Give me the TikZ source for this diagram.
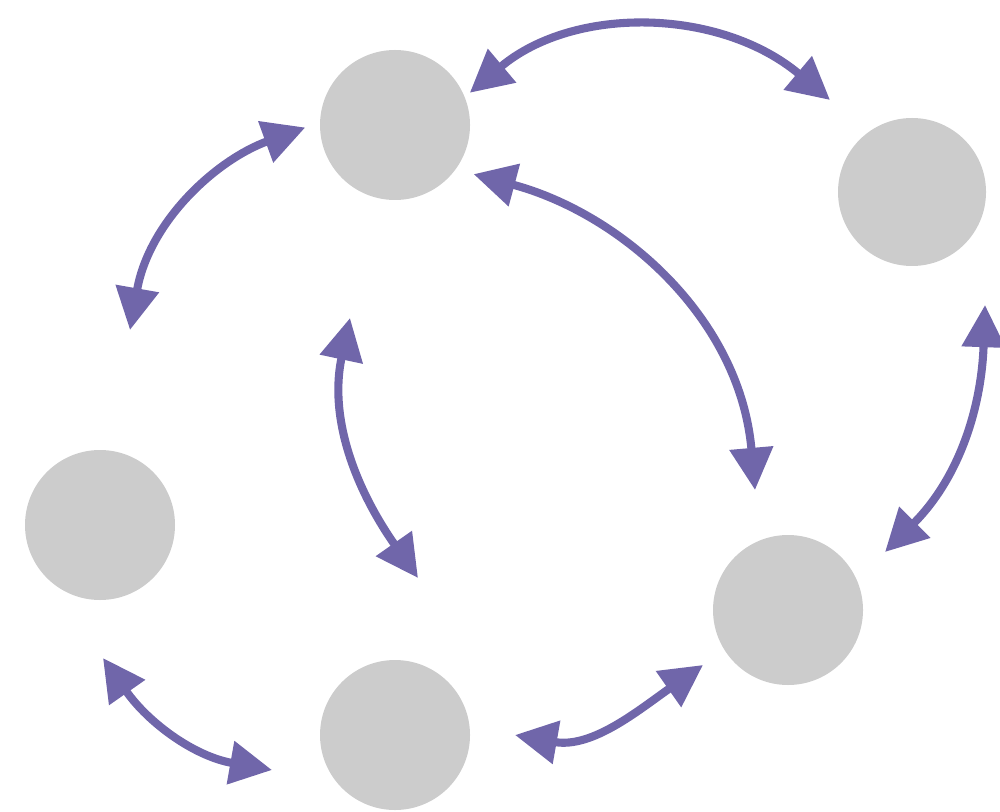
\documentclass[tikz,border=0pt]{standalone}
\usepackage{xcolor}
\usetikzlibrary{arrows.meta}
\definecolor{mypurple}{RGB}{112,102,170}
\definecolor{mygray}{RGB}{204,204,204}

\begin{document}
\begin{tikzpicture}[scale=1]
 \useasboundingbox (0,0) rectangle (10,8.11);

 %nodes:
 \node[circle, fill=mygray, inner sep=0, minimum size=1.5cm] (top) at (3.95,6.86) {};
 \node[circle, fill=mygray, inner sep=0, minimum size=1.48cm] (right) at (9.12,6.19) {};
 \node[circle, fill=mygray, inner sep=0, minimum size=1.5cm] (left) at (1.00,2.86) {};
 \node[circle, fill=mygray, inner sep=0, minimum size=1.5cm] (bottom) at (3.95,0.76) {};
 \node[circle, fill=mygray, inner sep=0, minimum size=1.5cm] (lowright) at (7.88,2.01) {};

 %free ends
 \coordinate (top-r) at (8.30,7.11);
 \coordinate (left-u) at (1.30,4.81);
 \coordinate (lowright-u) at (7.55,3.21);
 \coordinate (mid-u) at (3.50,4.93);
 \coordinate (mid-d) at (4.18,2.33);
 \coordinate (right-d) at (9.85,5.06);
 \coordinate (lowright-r) at (8.85,2.59);
 \coordinate (left-d) at (1.03,1.53);
 \coordinate (bottom-l) at (2.72,0.41);
 \coordinate (bottom-r) at (5.15,0.76);
 \coordinate (lowright-l) at (7.03,1.46);

 %arrows
 \draw[{Triangle[length=12pt,width=12pt]}-{Triangle[length=12pt,width=12pt]}, mypurple, line width=2.3pt, shorten <=0.06cm] (top.22) to[out=40, in=140] (top-r);
 \draw[{Triangle[length=12pt,width=12pt]}-{Triangle[length=12pt,width=12pt]}, mypurple, line width=2.3pt, shorten >=0.15cm] (left-u) to[out=80, in=200] (top.178);
 \draw[{Triangle[length=12pt,width=12pt]}-{Triangle[length=12pt,width=12pt]}, mypurple, line width=2.3pt, shorten <=0.18cm] (top.-36) to[out=-15, in=95] (lowright-u);
 \draw[{Triangle[length=12pt,width=12pt]}-{Triangle[length=12pt,width=12pt]}, mypurple, line width=2.3pt] (mid-u) to[out=-102, in=125] (mid-d);
 \draw[{Triangle[length=12pt,width=12pt]}-{Triangle[length=12pt,width=12pt]}, mypurple, line width=2.3pt] (right-d) to[out=-92, in=45] (lowright-r);
 \draw[{Triangle[length=12pt,width=12pt]}-{Triangle[length=12pt,width=12pt]}, mypurple, line width=2.3pt] (left-d) to[out=-55, in=170] (bottom-l);
 \draw[{Triangle[length=12pt,width=12pt]}-{Triangle[length=12pt,width=12pt]}, mypurple, line width=2.3pt] (bottom-r) to[out=-10, in=215] (lowright-l);
\end{tikzpicture}
\end{document}
